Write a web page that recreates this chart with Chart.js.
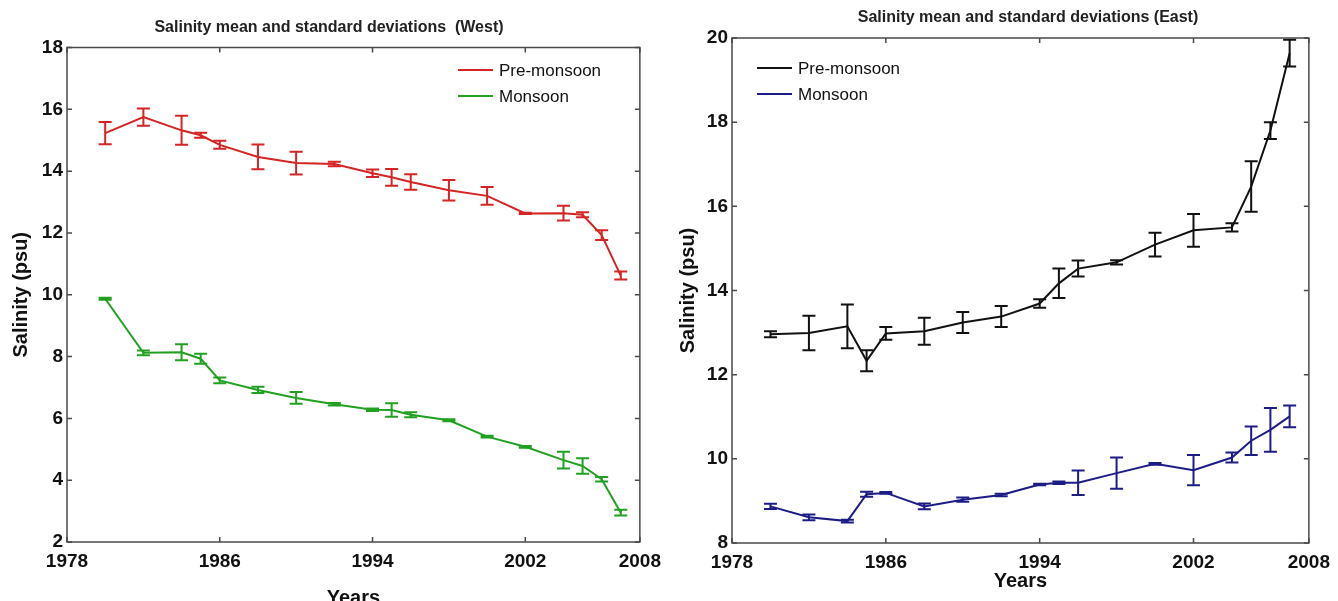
<!DOCTYPE html>
<html>
<head>
<meta charset="utf-8">
<script src="https://cdn.jsdelivr.net/npm/chart.js@4.4.1/dist/chart.umd.min.js"></script>
<style>
  html, body { margin: 0; padding: 0; background: #fff; }
  .wrap { position: relative; width: 1338px; height: 601px; overflow: hidden; }
  .panel { position: absolute; top: 0; width: 669px; height: 601px; }
</style>
</head>
<body>
<div class="wrap">
  <div class="panel" style="left:0"><canvas id="westChart" width="669" height="601"></canvas></div>
  <div class="panel" style="left:669px"><canvas id="eastChart" width="669" height="601"></canvas></div>
</div>
<script>
// survey years (same for both sides)
const years = [1980, 1982, 1984, 1985, 1986, 1988, 1990, 1992, 1994, 1995, 1996, 1998, 2000, 2002, 2004, 2005, 2006, 2007];

// West
const westPreMean = [15.23, 15.75, 15.32, 15.16, 14.85, 14.46, 14.26, 14.23, 13.93, 13.80, 13.65, 13.38, 13.20, 12.63, 12.64, 12.59, 11.93, 10.62];
const westPreSd   = [0.36, 0.28, 0.47, 0.08, 0.13, 0.40, 0.37, 0.07, 0.12, 0.27, 0.25, 0.33, 0.29, 0.02, 0.24, 0.08, 0.16, 0.13];
const westMonMean = [9.87, 8.12, 8.14, 7.93, 7.23, 6.92, 6.66, 6.46, 6.28, 6.27, 6.12, 5.94, 5.41, 5.08, 4.65, 4.46, 4.03, 2.95];
const westMonSd   = [0.03, 0.08, 0.26, 0.16, 0.09, 0.10, 0.19, 0.04, 0.04, 0.22, 0.08, 0.03, 0.03, 0.03, 0.27, 0.25, 0.07, 0.09];

// East
const eastPreMean = [12.96, 12.99, 13.15, 12.33, 12.98, 13.03, 13.24, 13.38, 13.69, 14.17, 14.52, 14.67, 15.09, 15.43, 15.50, 16.47, 17.80, 19.64];
const eastPreSd   = [0.07, 0.41, 0.52, 0.25, 0.15, 0.32, 0.25, 0.25, 0.10, 0.35, 0.19, 0.05, 0.28, 0.39, 0.10, 0.60, 0.20, 0.32];
const eastMonMean = [8.87, 8.61, 8.52, 9.16, 9.19, 8.87, 9.03, 9.14, 9.39, 9.43, 9.43, 9.66, 9.88, 9.73, 10.03, 10.43, 10.69, 11.01];
const eastMonSd   = [0.06, 0.07, 0.03, 0.06, 0.02, 0.07, 0.05, 0.03, 0.02, 0.03, 0.29, 0.37, 0.02, 0.36, 0.12, 0.34, 0.52, 0.26];

const xTicks = [1978, 1986, 1994, 2002, 2008];
const westYTicks = [2, 4, 6, 8, 10, 12, 14, 16, 18];
const eastYTicks = [8, 10, 12, 14, 16, 18, 20];

const FONT = "'Liberation Sans', Arial, sans-serif";

// error bars, frame with inward ticks, title and legend
const salinityPlugin = {
    id: 'salinityDecor',
    afterDatasetsDraw(chart) {
        const ctx = chart.ctx;
        const xs = chart.scales.x, ys = chart.scales.y;
        chart.data.datasets.forEach(ds => {
            ctx.save();
            ctx.strokeStyle = ds.borderColor;
            ctx.lineWidth = 2;
            ds.data.forEach((p, i) => {
                const sd = ds.sd[i];
                const x = xs.getPixelForValue(p.x);
                const yTop = ys.getPixelForValue(p.y + sd);
                const yBot = ys.getPixelForValue(p.y - sd);
                ctx.beginPath();
                ctx.moveTo(x, yTop); ctx.lineTo(x, yBot);
                ctx.moveTo(x - 6.5, yTop); ctx.lineTo(x + 6.5, yTop);
                ctx.moveTo(x - 6.5, yBot); ctx.lineTo(x + 6.5, yBot);
                ctx.stroke();
            });
            ctx.restore();
        });
    },
    afterDraw(chart, args, opts) {
        const ctx = chart.ctx;
        const a = chart.chartArea;
        const xs = chart.scales.x, ys = chart.scales.y;

        ctx.save();
        ctx.strokeStyle = '#4a4a4a';
        ctx.lineWidth = 1.5;
        ctx.strokeRect(a.left, a.top, a.right - a.left, a.bottom - a.top);
        ctx.beginPath();
        xs.ticks.forEach(t => {
            const x = xs.getPixelForValue(t.value);
            ctx.moveTo(x, a.bottom); ctx.lineTo(x, a.bottom - 5);
            ctx.moveTo(x, a.top); ctx.lineTo(x, a.top + 5);
        });
        ys.ticks.forEach(t => {
            const y = ys.getPixelForValue(t.value);
            ctx.moveTo(a.left, y); ctx.lineTo(a.left + 5, y);
            ctx.moveTo(a.right, y); ctx.lineTo(a.right - 5, y);
        });
        ctx.stroke();

        // title
        ctx.fillStyle = '#222';
        ctx.font = 'bold 16px ' + FONT;
        ctx.textAlign = 'center';
        ctx.textBaseline = 'middle';
        ctx.fillText(opts.title, opts.titleX, opts.titleY);

        // legend
        ctx.font = '17px ' + FONT;
        ctx.textAlign = 'left';
        chart.data.datasets.forEach((ds, i) => {
            const y = opts.legendY + i * 26;
            ctx.strokeStyle = ds.borderColor;
            ctx.lineWidth = 2;
            ctx.beginPath();
            ctx.moveTo(opts.legendX, y);
            ctx.lineTo(opts.legendX + 35, y);
            ctx.stroke();
            ctx.fillStyle = '#111';
            ctx.fillText(ds.label, opts.legendX + 41, y + 1);
        });
        ctx.restore();
    }
};

const toPoints = (xs, ys) => xs.map((x, i) => ({ x: x, y: ys[i] }));

const makeDataset = (label, means, sds, color) => ({
    label: label,
    data: toPoints(years, means),
    sd: sds,
    borderColor: color,
    backgroundColor: color,
    borderWidth: 2,
    pointRadius: 0,
    tension: 0,
    fill: false
});

const getOptions = (cfg) => ({
    responsive: false,
    animation: false,
    layout: { padding: { top: cfg.top, right: cfg.right, left: 0, bottom: 0 } },
    plugins: {
        legend: { display: false },
        tooltip: { enabled: false },
        title: { display: false },
        salinityDecor: {
            title: cfg.title, titleX: cfg.titleX, titleY: cfg.titleY,
            legendX: cfg.legendX, legendY: cfg.legendY
        }
    },
    scales: {
        x: {
            type: 'linear',
            min: 1978,
            max: 2008,
            afterBuildTicks: s => { s.ticks = xTicks.map(v => ({ value: v })); },
            afterFit: s => { s.height = cfg.xHeight; },
            grid: { display: false, drawTicks: false },
            border: { display: false },
            ticks: {
                padding: 8,
                color: '#111',
                font: { family: FONT, size: 19, weight: 'bold' },
                callback: v => String(v),
                maxRotation: 0
            },
            title: {
                display: true,
                text: 'Years',
                color: '#111',
                font: { family: FONT, size: 20, weight: 'bold' },
                padding: { top: 0, bottom: cfg.yearsPad }
            }
        },
        y: {
            min: cfg.yTicks[0],
            max: cfg.yTicks[cfg.yTicks.length - 1],
            afterBuildTicks: s => { s.ticks = cfg.yTicks.map(v => ({ value: v })); },
            afterFit: s => { s.width = cfg.yWidth; },
            grid: { display: false, drawTicks: false },
            border: { display: false },
            ticks: {
                padding: 4,
                color: '#111',
                font: { family: FONT, size: 19, weight: 'bold' },
                callback: v => String(v)
            },
            title: {
                display: true,
                text: 'Salinity (psu)',
                color: '#111',
                font: { family: FONT, size: 20, weight: 'bold' },
                padding: { top: cfg.salPad, bottom: 0 }
            }
        }
    }
});

new Chart(document.getElementById('westChart').getContext('2d'), {
    type: 'line',
    data: {
        datasets: [
            makeDataset('Pre-monsoon', westPreMean, westPreSd, '#d42424'),
            makeDataset('Monsoon', westMonMean, westMonSd, '#22a022')
        ]
    },
    options: getOptions({
        top: 47.5, right: 29, xHeight: 59, yWidth: 67, yTicks: westYTicks,
        yearsPad: -9, salPad: 9,
        title: 'Salinity mean and standard deviations  (West)', titleX: 329, titleY: 28,
        legendX: 458, legendY: 70
    }),
    plugins: [salinityPlugin]
});

new Chart(document.getElementById('eastChart').getContext('2d'), {
    type: 'line',
    data: {
        datasets: [
            makeDataset('Pre-monsoon', eastPreMean, eastPreSd, '#111111'),
            makeDataset('Monsoon', eastMonMean, eastMonSd, '#1c1c86')
        ]
    },
    options: getOptions({
        top: 38, right: 21, xHeight: 58, yWidth: 63, yTicks: eastYTicks,
        yearsPad: 8, salPad: 7,
        title: 'Salinity mean and standard deviations (East)', titleX: 359, titleY: 18,
        legendX: 88, legendY: 68
    }),
    plugins: [salinityPlugin]
});
</script>
</body>
</html>
